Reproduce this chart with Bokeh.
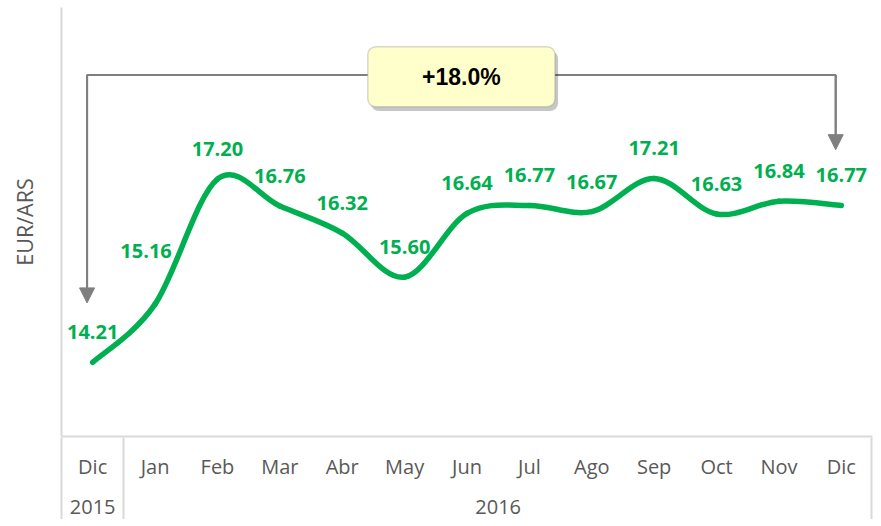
from bokeh.plotting import figure
from bokeh.models import (Range1d, LinearAxis, FixedTicker, BoxAnnotation, Label,
                          Arrow, NormalHead)
from bokeh.core.properties import value
from bokeh.embed import file_html
from bokeh.resources import INLINE

# ---- data ----
months = ["Dic", "Jan", "Feb", "Mar", "Abr", "May", "Jun", "Jul", "Ago", "Sep", "Oct", "Nov", "Dic"]
years = ["2015", "2016", "2016", "2016", "2016", "2016", "2016", "2016", "2016", "2016", "2016", "2016", "2016"]
eur_ars = [14.21, 15.16, 17.20, 16.76, 16.32, 15.60, 16.64, 16.77, 16.67, 17.21, 16.63, 16.84, 16.77]

# label placement (style, screen pixels)
label_dx = [0, -9, 0, 0, 0, 0, 0, 0, 0, 0, 0, 0, 0]
label_dy = [-30, -53, -30, -30, -30, -30, -30, -30, -30, -30, -30, -30, -30]

GREEN = "#00B050"
GRAY_TXT = "#595959"
GRID = "#d9d9d9"
ANN = "#7f7f7f"

n = len(months)
pos = [i + 0.5 for i in range(n)]

p = figure(frame_width=811, frame_height=429, x_range=Range1d(0, n), y_range=Range1d(13, 20),
           x_axis_type=None, y_axis_type=None, toolbar_location=None,
           output_backend="svg", min_border_left=61, min_border_right=1,
           min_border_top=7, min_border_bottom=82)
p.outline_line_color = None
p.background_fill_color = "white"
p.border_fill_color = "white"

# left axis (line + title only)
yax = LinearAxis(ticker=FixedTicker(ticks=[], minor_ticks=[]), axis_label="EUR/ARS",
                 axis_line_color=GRID, axis_line_width=2,
                 major_tick_out=0, major_tick_in=0, minor_tick_out=0, minor_tick_in=0,
                 major_label_standoff=0, axis_label_standoff=23,
                 axis_label_text_font="Open Sans", axis_label_text_font_size="21.5px",
                 axis_label_text_font_style="normal", axis_label_text_color=GRAY_TXT)
p.add_layout(yax, "left")

# month axis
max_ = LinearAxis(ticker=FixedTicker(ticks=pos, minor_ticks=[]),
                  major_label_overrides={float(x): m for x, m in zip(pos, months)},
                  axis_line_color=GRID, axis_line_width=2,
                  major_tick_out=0, major_tick_in=0, minor_tick_out=0, minor_tick_in=0,
                  major_label_standoff=16,
                  major_label_text_font="Open Sans", major_label_text_font_size="20px",
                  major_label_text_color=GRAY_TXT)
p.add_layout(max_, "below")

# year axis
bounds = [0.0]
for i in range(1, n):
    if years[i] != years[i - 1]:
        bounds.append(float(i))
bounds.append(float(n))
year_names = []
year_mids = []
for a, b in zip(bounds[:-1], bounds[1:]):
    year_mids.append((a + b) / 2)
    year_names.append(years[int(a)])
yrax = LinearAxis(ticker=FixedTicker(ticks=year_mids, minor_ticks=[]),
                  major_label_overrides={float(x): y for x, y in zip(year_mids, year_names)},
                  axis_line_color=None,
                  major_tick_out=0, major_tick_in=0, minor_tick_out=0, minor_tick_in=0,
                  major_label_standoff=17,
                  major_label_text_font="Open Sans", major_label_text_font_size="20px",
                  major_label_text_color=GRAY_TXT)
p.add_layout(yrax, "below")

# group separators (table lines under the frame); last one nudged inside the frame edge
sep_ticks = bounds[:-1] + [bounds[-1] - 0.012]
sepax = LinearAxis(ticker=FixedTicker(ticks=[], minor_ticks=sep_ticks),
                   axis_line_color=None, major_tick_out=0, major_tick_in=0,
                   minor_tick_in=79, minor_tick_out=3,
                   minor_tick_line_color=GRID, minor_tick_line_width=2,
                   major_label_standoff=0)
p.add_layout(sepax, "below")

# smoothed line (Bezier segments with Catmull-Rom control points)
x0, y0, x1, y1, cx0, cy0, cx1, cy1 = [], [], [], [], [], [], [], []
for i in range(n - 1):
    xa, ya = pos[max(i - 1, 0)], eur_ars[max(i - 1, 0)]
    xb, yb = pos[i], eur_ars[i]
    xc, yc = pos[i + 1], eur_ars[i + 1]
    xd, yd = pos[min(i + 2, n - 1)], eur_ars[min(i + 2, n - 1)]
    x0.append(xb); y0.append(yb); x1.append(xc); y1.append(yc)
    cx0.append(xb + (xc - xa) / 6); cy0.append(yb + (yc - ya) / 6)
    cx1.append(xc - (xd - xb) / 6); cy1.append(yc - (yd - yb) / 6)
p.bezier(x0=x0, y0=y0, x1=x1, y1=y1, cx0=cx0, cy0=cy0, cx1=cx1, cy1=cy1,
         line_color=GREEN, line_width=5.5, line_cap="round")

# data labels
p.text(x=pos, y=eur_ars, text=[f"{v:.2f}" for v in eur_ars],
       x_offset=label_dx, y_offset=label_dy,
       text_align="center", text_baseline="middle",
       text_font=value("Open Sans"), text_font_style="bold",
       text_font_size="20px", text_color=GREEN)

# change annotation
xl = pos[0] - 0.09
xr = pos[-1] - 0.09
top = 18.9
tip_l = eur_ars[0] + 0.97
tip_r = eur_ars[-1] + 0.91
bx_c = (xl + xr) / 2
bx_l, bx_r = bx_c - 1.5, bx_c + 1.5
bx_t, bx_b = 19.36, 18.38

p.line(x=[xl, xl, bx_l], y=[tip_l + 0.2, top, top], line_color=ANN, line_width=2)
p.line(x=[bx_r, xr, xr], y=[top, top, tip_r + 0.2], line_color=ANN, line_width=2)
for xx, tt in ((xl, tip_l), (xr, tip_r)):
    p.add_layout(Arrow(x_start=xx, y_start=top, x_end=xx, y_end=tt,
                       line_color=ANN, line_width=2,
                       end=NormalHead(size=15, fill_color=ANN, line_color=ANN)))

p.add_layout(BoxAnnotation(left=bx_l + 0.05, right=bx_r + 0.05, top=bx_t - 0.07, bottom=bx_b - 0.07,
                           fill_color="#000000", fill_alpha=0.22, line_color=None,
                           border_radius=8))
p.add_layout(BoxAnnotation(left=bx_l, right=bx_r, top=bx_t, bottom=bx_b,
                           fill_color="#FFFFCC", fill_alpha=1.0, line_color=ANN,
                           line_width=1.5, border_radius=8))
pct = (eur_ars[-1] / eur_ars[0] - 1) * 100
p.add_layout(Label(x=bx_c, y=(bx_t + bx_b) / 2, text=f"+{pct:.1f}%",
                   text_align="center", text_baseline="middle",
                   text_font="Liberation Sans", text_font_style="bold",
                   text_font_size="23px", text_color="black"))

open("out.html", "w").write(file_html(p, INLINE))
